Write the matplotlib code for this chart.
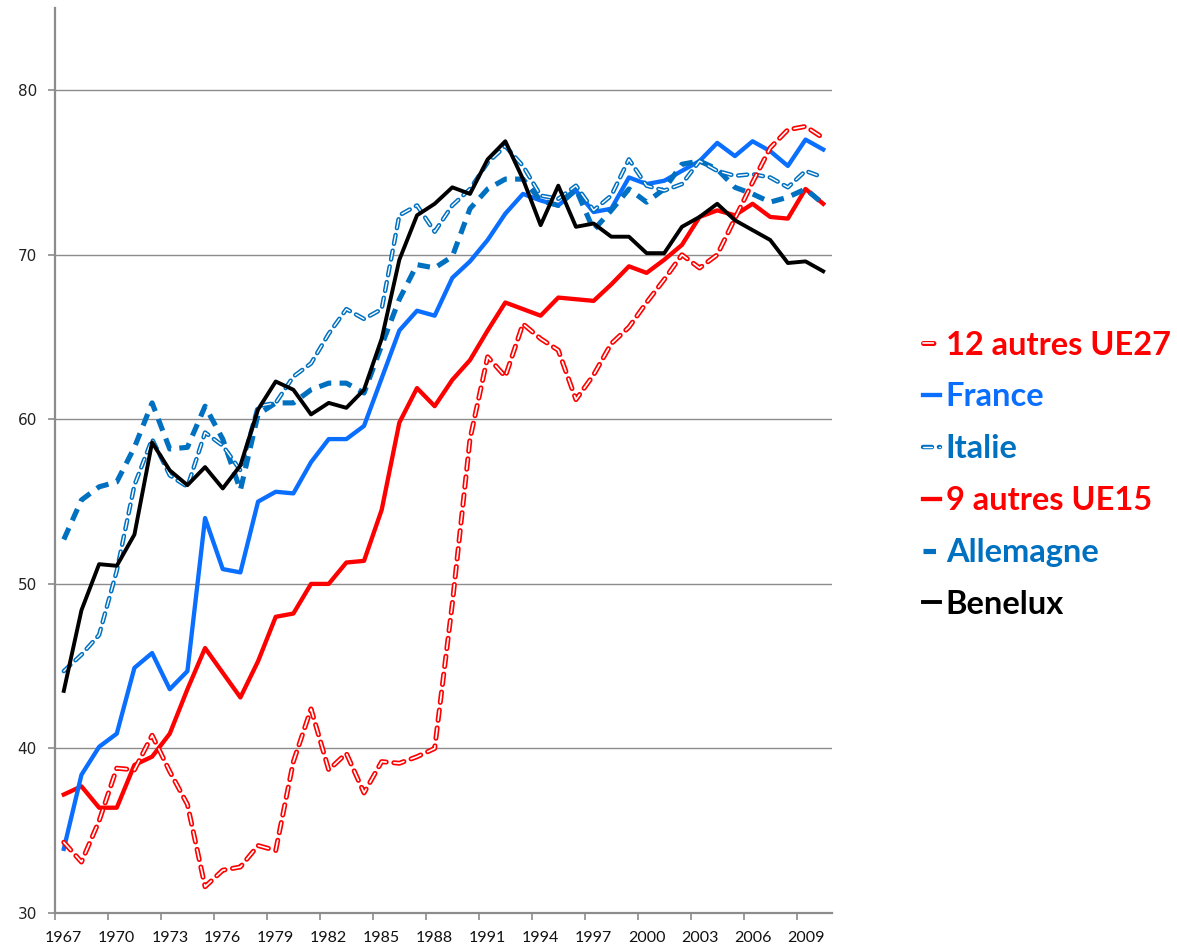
import matplotlib
matplotlib.use("Agg")
import matplotlib.pyplot as plt
import matplotlib.patheffects as pe

# Data (1967-2010)
years = list(range(1967, 2011))

autres_ue27 = [34.3, 33.1, 35.6, 38.8, 38.7, 40.8, 38.6, 36.6, 31.6, 32.6,
               32.8, 34.1, 33.8, 39.2, 42.4, 38.7, 39.7, 37.3, 39.2, 39.1,
               39.5, 40.0, 48.8, 58.8, 63.8, 62.6, 65.8, 64.9, 64.2, 61.2,
               62.7, 64.6, 65.6, 67.1, 68.5, 70.0, 69.2, 70.0, 72.2, 74.4,
               76.5, 77.6, 77.8, 77.1]

france = [33.9, 38.4, 40.1, 40.9, 44.9, 45.8, 43.6, 44.7, 54.0, 50.9,
          50.7, 55.0, 55.6, 55.5, 57.4, 58.8, 58.8, 59.6, 62.5, 65.4,
          66.6, 66.3, 68.6, 69.6, 70.9, 72.5, 73.7, 73.3, 73.0, 73.9,
          72.6, 72.8, 74.7, 74.3, 74.5, 75.1, 75.7, 76.8, 76.0, 76.9,
          76.3, 75.4, 77.0, 76.4]

italie = [44.7, 45.7, 46.9, 50.8, 56.0, 58.8, 56.6, 55.9, 59.2, 58.4,
          56.9, 60.8, 61.0, 62.6, 63.4, 65.2, 66.7, 66.1, 66.7, 72.4,
          73.0, 71.4, 73.0, 74.0, 75.6, 76.6, 75.4, 73.6, 73.4, 74.2,
          72.7, 73.6, 75.8, 74.2, 73.9, 74.3, 75.7, 75.1, 74.8, 74.9,
          74.7, 74.1, 75.1, 74.7]

autres_ue15 = [37.2, 37.7, 36.4, 36.4, 39.0, 39.5, 40.9, 43.6, 46.1, 44.6,
               43.1, 45.3, 48.0, 48.2, 50.0, 50.0, 51.3, 51.4, 54.5, 59.8,
               61.9, 60.8, 62.4, 63.6, 65.4, 67.1, 66.7, 66.3, 67.4, 67.3,
               67.2, 68.2, 69.3, 68.9, 69.7, 70.6, 72.3, 72.7, 72.4, 73.1,
               72.3, 72.2, 74.0, 73.1]

allemagne = [52.7, 55.1, 55.9, 56.2, 58.3, 61.0, 58.2, 58.3, 60.8, 58.8,
             55.7, 60.3, 61.0, 61.0, 61.8, 62.2, 62.2, 61.6, 64.5, 67.3,
             69.4, 69.2, 69.9, 72.8, 74.0, 74.6, 74.6, 73.3, 73.0, 74.0,
             71.5, 72.7, 74.0, 73.2, 74.0, 75.5, 75.7, 75.2, 74.1, 73.7,
             73.2, 73.5, 74.0, 73.1]

benelux = [43.5, 48.4, 51.2, 51.1, 53.0, 58.6, 56.9, 56.0, 57.1, 55.8,
           57.2, 60.6, 62.3, 61.8, 60.3, 61.0, 60.7, 61.8, 64.9, 69.7,
           72.4, 73.1, 74.1, 73.7, 75.8, 76.9, 74.6, 71.8, 74.2, 71.7,
           71.9, 71.1, 71.1, 70.1, 70.1, 71.7, 72.3, 73.1, 72.1, 71.5,
           70.9, 69.5, 69.6, 69.0]

label_years = list(range(1967, 2011, 3))

RED = "#FF0000"
BRIGHT_BLUE = "#0A6EFF"
BLUE = "#0070C0"

plt.rcParams["lines.scale_dashes"] = False

fig = plt.figure(figsize=(11.77, 9.48), dpi=100)
ax = fig.add_axes([0.0467, 0.0369, 0.6602, 0.9547])

# hollow dashed lines: white core with coloured outline
hollow_red = [pe.Stroke(linewidth=3.6, foreground=RED), pe.Normal()]
hollow_blue = [pe.Stroke(linewidth=3.2, foreground=BLUE), pe.Normal()]

l_ue15, = ax.plot(years, autres_ue15, color=RED, lw=3.1, zorder=2,
                  solid_joinstyle="round", label="9 autres UE15")
l_fr, = ax.plot(years, france, color=BRIGHT_BLUE, lw=3.1, zorder=3,
                solid_joinstyle="round", label="France")
l_all, = ax.plot(years, allemagne, color=BLUE, lw=3.7, zorder=4,
                 linestyle=(0, (9, 6)), dash_capstyle="butt", label="Allemagne")
l_it, = ax.plot(years, italie, color="white", lw=1.0, zorder=5,
                linestyle=(0, (6.5, 5)), dash_capstyle="round",
                path_effects=hollow_blue, label="Italie")
l_ue27, = ax.plot(years, autres_ue27, color="white", lw=1.2, zorder=6,
                  linestyle=(0, (7.5, 5.5)), dash_capstyle="round",
                  path_effects=hollow_red, label="12 autres UE27")
l_ben, = ax.plot(years, benelux, color="black", lw=2.8, zorder=7,
                 solid_joinstyle="round", label="Benelux")

ax.set_xlim(1966.5, 2010.5)
ax.set_ylim(30, 85)

# category axis: labels on the years, tick marks between categories
ax.set_xticks(label_years)
ax.set_xticklabels([str(y) for y in label_years], family=["Lato", "DejaVu Sans"],
                   fontsize=11.5, color="#111111")
ax.tick_params(axis="x", which="major", length=0, pad=13)
ax.set_xticks([y - 0.5 for y in label_years], minor=True)
ax.tick_params(axis="x", which="minor", length=5, width=1.2, color="#8c8c8c")

ax.set_yticks([30, 40, 50, 60, 70, 80])
ax.tick_params(axis="y", length=5, width=1.2, color="#8c8c8c", labelsize=11,
               labelcolor="#222222", pad=8)
ax.yaxis.grid(True, color="#8c8c8c", lw=1.0)
ax.set_axisbelow(True)

for side in ["top", "right"]:
    ax.spines[side].set_visible(False)
for side in ["left", "bottom"]:
    ax.spines[side].set_color("#8c8c8c")
    ax.spines[side].set_linewidth(1.6)

handles = [l_ue27, l_fr, l_it, l_ue15, l_all, l_ben]
text_colors = [RED, BRIGHT_BLUE, BLUE, RED, BLUE, "black"]
leg = fig.legend(handles=handles, loc="center left", bbox_to_anchor=(0.7842, 0.4993),
                 frameon=False, handlelength=0.52, handletextpad=0.18,
                 labelspacing=0.70, borderpad=0, borderaxespad=0,
                 prop={"family": ["Lato", "DejaVu Sans"], "weight": "bold", "size": 23.5})
for txt, c in zip(leg.get_texts(), text_colors):
    txt.set_color(c)

fig.savefig("out.png", dpi=100)
plt.close(fig)
